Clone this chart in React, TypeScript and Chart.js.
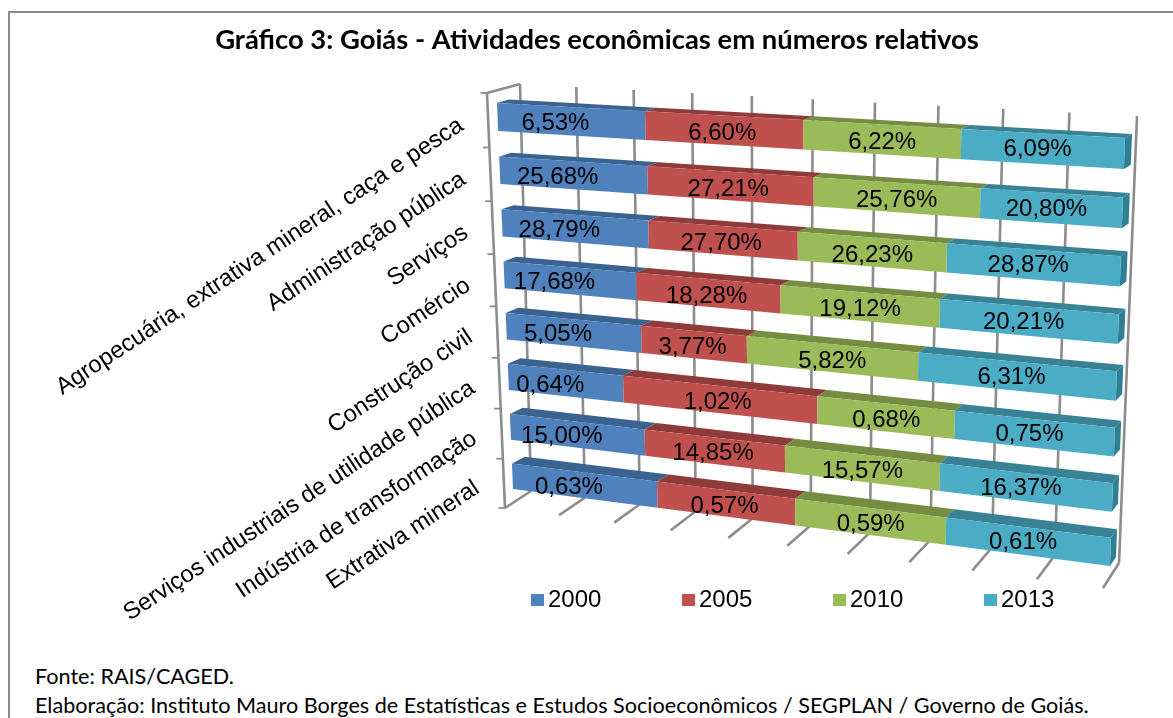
import React, { useEffect, useRef } from "react";
import { Chart, registerables } from "chart.js";

Chart.register(...registerables);

const categories = [
  "Agropecuária, extrativa mineral, caça e pesca",
  "Administração pública",
  "Serviços",
  "Comércio",
  "Construção civil",
  "Serviços industriais de utilidade pública",
  "Indústria de transformação",
  "Extrativa mineral",
];
const years = ["2000", "2005", "2010", "2013"];
const values2000 = [6.53, 25.68, 28.79, 17.68, 5.05, 0.64, 15.0, 0.63];
const values2005 = [6.6, 27.21, 27.7, 18.28, 3.77, 1.02, 14.85, 0.57];
const values2010 = [6.22, 25.76, 26.23, 19.12, 5.82, 0.68, 15.57, 0.59];
const values2013 = [6.09, 20.8, 28.87, 20.21, 6.31, 0.75, 16.37, 0.61];
const series = [values2000, values2005, values2010, values2013];
const faceColors = ["#4F81BD", "#C0504D", "#9BBB59", "#4BACC6"];
const topColors = ["#3B6391", "#8F3B39", "#748D42", "#398296"];
const sideColors = ["#3B6391", "#8F3B39", "#748D42", "#2F7F95"];
const gridColor = "#8C8C8C";
const titleText = "Gráfico 3: Goiás - Atividades econômicas em números relativos";

type P = [number, number];
type H = number[];

// Homography mapping the unit square onto a quad (TL, TR, BR, BL).
function unitToQuad(q: P[]): H {
  const [[x0, y0], [x1, y1], [x2, y2], [x3, y3]] = q;
  const dx1 = x1 - x2, dx2 = x3 - x2, sx = x0 - x1 + x2 - x3;
  const dy1 = y1 - y2, dy2 = y3 - y2, sy = y0 - y1 + y2 - y3;
  const det = dx1 * dy2 - dx2 * dy1;
  const g = (sx * dy2 - dx2 * sy) / det;
  const h = (dx1 * sy - sx * dy1) / det;
  return [x1 - x0 + g * x1, x3 - x0 + h * x3, x0, y1 - y0 + g * y1, y3 - y0 + h * y3, y0, g, h];
}
function makeProjector(left: number, top: number, right: number, bottom: number, quad: P[]) {
  const m = unitToQuad(quad);
  return (px: number, py: number): P => {
    const u = (px - left) / (right - left);
    const v = (py - top) / (bottom - top);
    const w = m[6] * u + m[7] * v + 1;
    return [(m[0] * u + m[1] * v + m[2]) / w, (m[3] * u + m[4] * v + m[5]) / w];
  };
}

const wallQuad: P[] = [[520, 84], [1137, 116], [1119, 563], [531, 491]];
const frontQuad: P[] = [[487, 93], [1122, 126], [1103, 588], [505, 508]];
const barFrontQuad: P[] = [[497, 103], [1125, 138], [1110, 566], [513, 489]];
const barBackQuad: P[] = [[509, 99.5], [1132, 134], [1116, 557], [526, 482]];

function poly(ctx: CanvasRenderingContext2D, pts: P[], fill: string) {
  ctx.beginPath();
  pts.forEach((p, i) => (i ? ctx.lineTo(p[0], p[1]) : ctx.moveTo(p[0], p[1])));
  ctx.closePath();
  ctx.fillStyle = fill;
  ctx.fill();
}
function line(ctx: CanvasRenderingContext2D, a: P, b: P) {
  ctx.beginPath();
  ctx.moveTo(a[0], a[1]);
  ctx.lineTo(b[0], b[1]);
  ctx.stroke();
}

const perspectivePlugin = {
  id: "perspective",
  beforeDatasetDraw() {
    return false; // the flat rectangles are replaced by projected ones below
  },
  afterDatasetsDraw(chart: any) {
    const { ctx, chartArea: a, scales } = chart;
    const xs = scales.x, ys = scales.y;
    const wall = makeProjector(a.left, a.top, a.right, a.bottom, wallQuad);
    const front = makeProjector(a.left, a.top, a.right, a.bottom, frontQuad);
    ctx.save();

    // Walls and grid
    ctx.strokeStyle = gridColor;
    ctx.lineWidth = 2.6;
    ctx.lineCap = "butt";
    xs.ticks.forEach((t: any) => {
      const px = xs.getPixelForValue(t.value);
      line(ctx, wall(px, a.top), wall(px, a.bottom));
      line(ctx, wall(px, a.bottom), front(px, a.bottom));
    });
    line(ctx, front(a.left, a.top), front(a.left, a.bottom));
    line(ctx, front(a.left, a.top), wall(a.left, a.top));
    ctx.lineWidth = 1.8;
    const n = categories.length;
    for (let i = 0; i <= n; i++) {
      const py = a.top + ((a.bottom - a.top) * i) / n;
      const p = front(a.left, py);
      line(ctx, p, [p[0] - 6.5, p[1]]);
    }

    // Bars
    const metas = chart.data.datasets.map((_: any, i: number) => chart.getDatasetMeta(i));
    const firstBar = metas[0].data[0];
    const lastBar = metas[0].data[n - 1];
    const srcTop = firstBar.y - firstBar.height / 2;
    const srcBottom = lastBar.y + lastBar.height / 2;
    const barF = makeProjector(a.left, srcTop, a.right, srcBottom, barFrontQuad);
    const barB = makeProjector(a.left, srcTop, a.right, srcBottom, barBackQuad);
    for (let r = 0; r < n; r++) {
      metas.forEach((meta: any, d: number) => {
        const el = meta.data[r];
        const x0 = el.base, x1 = el.x;
        const y0 = el.y - el.height / 2, y1 = el.y + el.height / 2;
        poly(ctx, [barF(x0, y0), barF(x1, y0), barB(x1, y0), barB(x0, y0)], topColors[d]);
        if (d === metas.length - 1) {
          poly(ctx, [barF(x1, y0), barB(x1, y0), barB(x1, y1), barF(x1, y1)], sideColors[d]);
        }
      });
      metas.forEach((meta: any, d: number) => {
        const el = meta.data[r];
        const x0 = el.base, x1 = el.x;
        const y0 = el.y - el.height / 2, y1 = el.y + el.height / 2;
        poly(ctx, [barF(x0, y0), barF(x1, y0), barF(x1, y1), barF(x0, y1)], faceColors[d]);
      });
    }

    // Data labels
    const labelNudgeX = [-15, -1, 1, -4];
    const labelNudgeY = [2, 3, 3, 1];
    ctx.font = '24px "Liberation Sans"';
    ctx.fillStyle = "#000";
    ctx.textAlign = "center";
    ctx.textBaseline = "middle";
    for (let r = 0; r < n; r++) {
      metas.forEach((meta: any, d: number) => {
        const el = meta.data[r];
        const c = barF((el.base + el.x) / 2, el.y);
        const txt = series[d][r].toFixed(2).replace(".", ",") + "%";
        ctx.fillText(txt, c[0] + labelNudgeX[d], c[1] + labelNudgeY[d]);
      });
    }

    // Category labels
    ctx.font = '23.8px "Liberation Sans"';
    ctx.textAlign = "right";
    ys.getLabels().forEach((lab: string, i: number) => {
      const py = ys.getPixelForValue(i);
      const p = front(a.left, py);
      ctx.save();
      ctx.translate(p[0] - 27, p[1] + 3);
      ctx.rotate((-33.5 * Math.PI) / 180);
      ctx.textBaseline = "middle";
      ctx.fillText(lab, 0, 0);
      ctx.restore();
    });

    // Legend
    ctx.font = '24px "Liberation Sans"';
    ctx.textAlign = "left";
    ctx.textBaseline = "middle";
    chart.data.datasets.forEach((ds: any, i: number) => {
      const lx = 531 + i * 151;
      ctx.fillStyle = faceColors[i];
      ctx.fillRect(lx, 594, 13, 12);
      ctx.fillStyle = "#000";
      ctx.fillText(ds.label, lx + 17, 600);
    });
    ctx.restore();
  },
};

export default function App() {
  const ref = useRef<HTMLCanvasElement | null>(null);
  useEffect(() => {
    if (!ref.current) return;
    const totals = categories.map((_, i) => series.reduce((s, v) => s + v[i], 0));
    const chart = new Chart(ref.current, {
      type: "bar",
      data: {
        labels: categories,
        datasets: years.map((y, d) => ({
          label: y,
          data: series[d].map((v, i) => (v / totals[i]) * 100),
          backgroundColor: faceColors[d],
          barPercentage: 0.52,
          categoryPercentage: 1,
        })),
      },
      options: {
        indexAxis: "y",
        animation: false,
        responsive: false,
        layout: { padding: { left: 0, right: 0, top: 0, bottom: 100 } },
        plugins: {
          legend: { display: false },
          tooltip: { enabled: false },
          title: {
            display: true,
            text: titleText,
            color: "#000",
            font: { family: "Lato", size: 27.4, weight: "bold" },
            padding: { top: 24, bottom: 30 },
          },
        },
        scales: {
          x: { stacked: true, min: 0, max: 100, display: false, ticks: { stepSize: 10 } },
          y: { stacked: true, display: false },
        },
      },
      plugins: [perspectivePlugin],
    } as any);
    return () => chart.destroy();
  }, []);
  return (
    <div style={{ position: "fixed", left: 0, top: 0, width: 1173, height: 718, overflow: "hidden", background: "#fff" }}>
      <div style={{ position: "absolute", left: 8, top: 11, width: 1300, height: 800, border: "2px solid #8C8C8C" }} />
      <canvas ref={ref} width={1194} height={660} style={{ position: "absolute", left: 0, top: 0, width: 1194, height: 660 }} />
      <div style={{ position: "absolute", left: 35, top: 662, font: '21.6px Lato', color: "#000", lineHeight: "29px", whiteSpace: "nowrap" }}>
        <div>Fonte: RAIS/CAGED.</div>
        <div>Elaboração: Instituto Mauro Borges de Estatísticas e Estudos Socioeconômicos / SEGPLAN / Governo de Goiás.</div>
      </div>
    </div>
  );
}
